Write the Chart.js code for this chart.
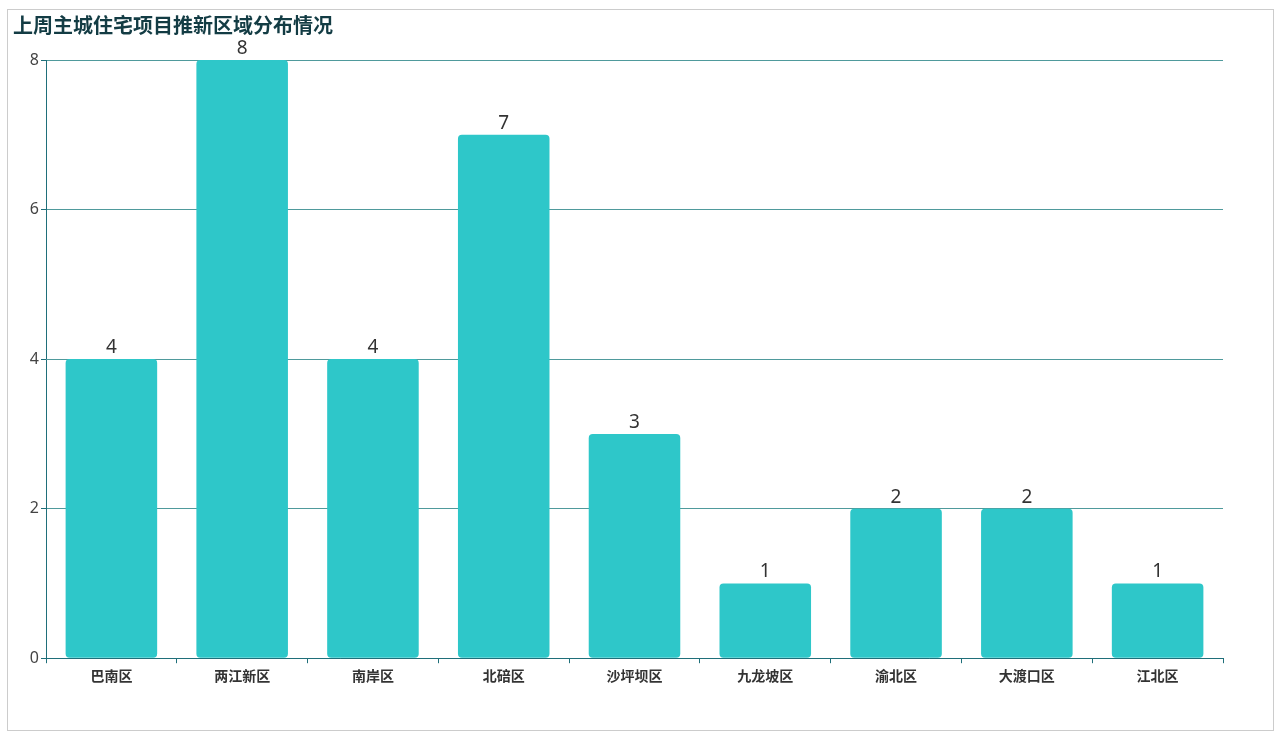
<!DOCTYPE html>
<html>
<head>
<meta charset="utf-8">
<script src="https://cdn.jsdelivr.net/npm/chart.js@4/dist/chart.umd.min.js"></script>
<style>
  body { margin: 0; background: #fff; }
  #box {
    position: absolute; left: 7px; top: 9px;
    width: 1265px; height: 720px;
    border: 1px solid #ccc;
  }
</style>
</head>
<body>
<div id="box"><canvas id="bar-chart" width="1265" height="720"></canvas></div>
<script>
const districts = ['巴南区', '两江新区', '南岸区', '北碚区', '沙坪坝区', '九龙坡区', '渝北区', '大渡口区', '江北区'];
const projectCounts = [4, 8, 4, 7, 3, 1, 2, 2, 1];
const yTicks = [0, 2, 4, 6, 8];

// draw the value above each bar
const valueLabels = {
  id: 'valueLabels',
  afterDatasetsDraw(chart) {
    const ctx = chart.ctx;
    const meta = chart.getDatasetMeta(0);
    ctx.save();
    ctx.font = '19px "Noto Sans", "Noto Sans CJK SC", sans-serif';
    ctx.fillStyle = '#333';
    ctx.textAlign = 'center';
    ctx.textBaseline = 'bottom';
    meta.data.forEach((bar, i) => {
      ctx.fillText(projectCounts[i], bar.x, bar.y - 2);
    });
    ctx.restore();
  }
};

const ctx = document.getElementById('bar-chart').getContext('2d');
new Chart(ctx, {
  type: 'bar',
  data: {
    labels: districts,
    datasets: [{
      data: projectCounts,
      backgroundColor: '#2ec7c9',
      borderRadius: 4,
      borderSkipped: false,
      categoryPercentage: 0.7,
      barPercentage: 1.0,
    }],
  },
  options: {
    responsive: false,
    animation: false,
    layout: { padding: { left: 5, right: 50, top: 0, bottom: 42 } },
    scales: {
      y: {
        min: 0,
        max: 8,
        afterBuildTicks: (axis) => { axis.ticks = yTicks.map(v => ({ value: v })); },
        afterFit: (axis) => { axis.width = 33; },
        ticks: {
          color: '#444',
          font: { size: 16, family: '"Noto Sans", sans-serif' },
          padding: 2,
        },
        grid: {
          color: '#4f9a9c',
          tickColor: '#1f6f7a',
          tickLength: 5,
        },
        border: { color: '#1f6f7a', width: 1 },
      },
      x: {
        ticks: {
          color: '#333',
          font: { size: 14, weight: 'bold', family: '"Noto Sans CJK SC", sans-serif' },
          padding: 4,
        },
        grid: {
          offset: true,
          drawOnChartArea: false,
          tickColor: '#1f6f7a',
          tickLength: 5,
        },
        border: { color: '#1f6f7a', width: 1 },
      },
    },
    plugins: {
      legend: { display: false },
      tooltip: { enabled: false },
      title: {
        display: true,
        text: '上周主城住宅项目推新区域分布情况',
        align: 'start',
        color: '#133c44',
        font: { size: 20, weight: 'bold', family: '"Noto Sans CJK SC", sans-serif' },
        padding: { top: 3, bottom: 23 },
      },
    },
  },
  plugins: [valueLabels],
});
</script>
</body>
</html>
